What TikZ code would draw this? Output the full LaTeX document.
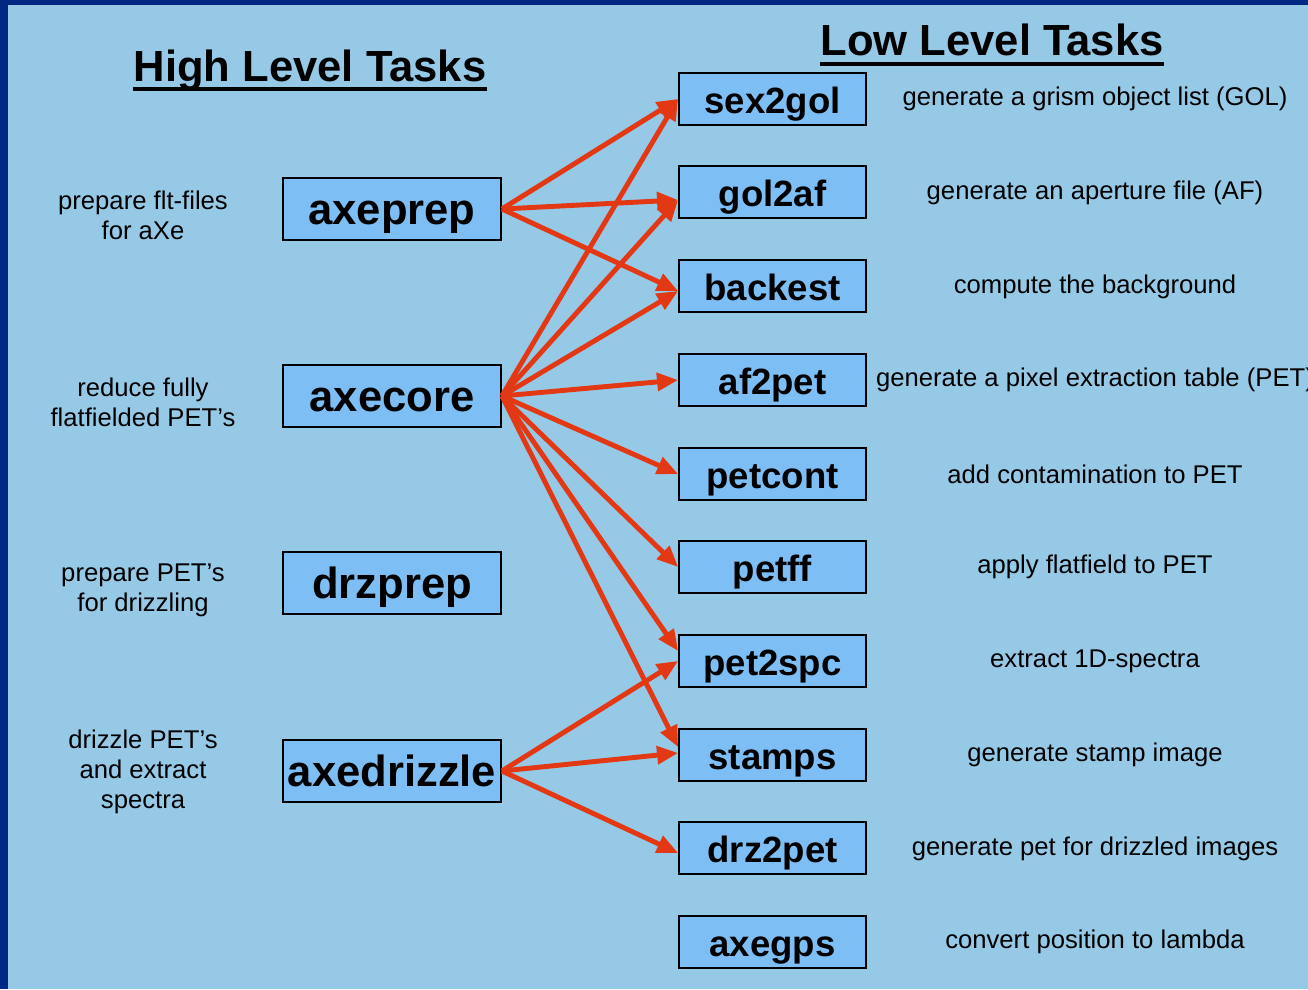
\documentclass[tikz,border=0pt]{standalone}
\usepackage{fontspec}
\setmainfont{Liberation Sans}
\usetikzlibrary{arrows.meta}
\definecolor{frame}{HTML}{002882}
\definecolor{sky}{HTML}{96C9E6}
\definecolor{boxblue}{HTML}{7DBEF5}
\definecolor{arrowred}{HTML}{E23814}

\tikzset{
  hitask/.style={draw=black,fill=boxblue,line width=.5pt,minimum width=2.18cm,minimum height=.62cm,
    inner sep=0pt,text height=.88em,text depth=0pt,font=\fontsize{12.4}{14}\selectfont\bfseries},
  lotask/.style={draw=black,fill=boxblue,line width=.5pt,minimum width=1.87cm,minimum height=.52cm,
    inner sep=0pt,text height=.8em,text depth=0pt,font=\fontsize{10.4}{12}\selectfont\bfseries},
  note/.style={align=center,font=\fontsize{7.3}{8.5}\selectfont},
  title/.style={inner sep=0pt,font=\fontsize{12.4}{14}\selectfont\bfseries},
  calls/.style={draw=arrowred,line width=1.4pt,-{Triangle[length=6pt,width=5pt]}}
}

\begin{document}
\begin{tikzpicture}
\useasboundingbox (0,0) rectangle (13.08,9.89);
% frame
\fill[frame] (0,0) rectangle (13.08,9.89);
\fill[sky] (.08,0) rectangle (13.08,9.84);
% headings
\node[title] (hlt) at (3.10,9.19) {High Level Tasks};
\node[title] (llt) at (9.92,9.49) {Low Level Tasks};
\draw[line width=1.1pt] ([yshift=-2.2pt]hlt.base west) -- ([yshift=-2.2pt]hlt.base east);
\draw[line width=1.1pt] ([yshift=-2.4pt]llt.base west) -- ([yshift=-2.4pt]llt.base east);
% high level tasks
\node[hitask] (axeprep) at (3.92,7.80) {axeprep};
\node[hitask] (axecore) at (3.92,5.93) {axecore};
\node[hitask] (drzprep) at (3.92,4.06) {drzprep};
\node[hitask] (axedrizzle) at (3.92,2.18) {axedrizzle};
\node[note] (axeprepnote) at (1.43,7.74) {prepare flt-files\\for aXe};
\node[note] (axecorenote) at (1.43,5.87) {reduce fully\\flatfielded PET’s};
\node[note] (drzprepnote) at (1.43,3.99) {prepare PET’s\\for drizzling};
\node[note] (axedrizzlenote) at (1.43,2.17) {drizzle PET’s\\and extract\\spectra};
% low level tasks
\node[lotask] (sex2gol) at (7.725,8.90) {sex2gol};
\node[lotask] (gol2af) at (7.725,7.97) {gol2af};
\node[lotask] (backest) at (7.725,7.03) {backest};
\node[lotask] (af2pet) at (7.725,6.09) {af2pet};
\node[lotask] (petcont) at (7.725,5.15) {petcont};
\node[lotask] (petff) at (7.725,4.22) {petff};
\node[lotask] (pet2spc) at (7.725,3.28) {pet2spc};
\node[lotask] (stamps) at (7.725,2.34) {stamps};
\node[lotask] (drz2pet) at (7.725,1.41) {drz2pet};
\node[lotask] (axegps) at (7.725,0.47) {axegps};
\node[note] (sex2golnote) at (10.95,8.90) {generate a grism object list (GOL)};
\node[note] (gol2afnote) at (10.95,7.96) {generate an aperture file (AF)};
\node[note] (backestnote) at (10.95,7.02) {compute the background};
\node[note] (af2petnote) at (10.95,6.09) {generate a pixel extraction table (PET)};
\node[note] (petcontnote) at (10.95,5.15) {add contamination to PET};
\node[note] (petffnote) at (10.95,4.22) {apply flatfield to PET};
\node[note] (pet2spcnote) at (10.95,3.28) {extract 1D-spectra};
\node[note] (stampsnote) at (10.95,2.34) {generate stamp image};
\node[note] (drz2petnote) at (10.95,1.40) {generate pet for drizzled images};
\node[note] (axegpsnote) at (10.95,0.47) {convert position to lambda};
% who calls what
\draw[calls] (axeprep.east) -- (sex2gol.west);
\draw[calls] (axeprep.east) -- ([yshift=-.08cm]gol2af.west);
\draw[calls] (axeprep.east) -- ([yshift=-.05cm]backest.west);
\draw[calls] (axecore.east) -- (sex2gol.west);
\draw[calls] (axecore.east) -- ([yshift=-.08cm]gol2af.west);
\draw[calls] (axecore.east) -- ([yshift=-.05cm]backest.west);
\draw[calls] (axecore.east) -- (af2pet.west);
\draw[calls] (axecore.east) -- (petcont.west);
\draw[calls] (axecore.east) -- (petff.west);
\draw[calls] (axecore.east) -- ([yshift=.1cm]pet2spc.west);
\draw[calls] (axecore.east) -- ([yshift=.08cm]stamps.west);
\draw[calls] (axedrizzle.east) -- (pet2spc.west);
\draw[calls] (axedrizzle.east) -- ([yshift=.02cm]stamps.west);
\draw[calls] (axedrizzle.east) -- ([yshift=-.05cm]drz2pet.west);
\end{tikzpicture}
\end{document}
